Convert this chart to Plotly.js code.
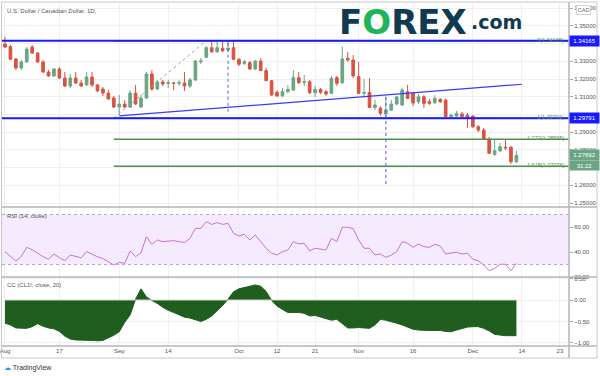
<!DOCTYPE html>
<html><head><meta charset="utf-8">
<script src="https://cdn.plot.ly/plotly-3.0.1.min.js"></script>
<style>html,body{margin:0;padding:0;background:#fff;}#chart{width:600px;height:376px;}</style>
</head><body><div id="chart"></div>
<script>
// trading days (weekdays) shown on the chart
const tradingDays = {
  '2020-08': [3,4,5,6,7,10,11,12,13,14,17,18,19,20,21,24,25,26,27,28,31],
  '2020-09': [1,2,3,4,7,8,9,10,11,14,15,16,17,18,21,22,23,24,25,28,29,30],
  '2020-10': [1,2,5,6,7,8,9,12,13,14,15,16,19,20,21,22,23,26,27,28,29,30],
  '2020-11': [2,3,4,5,6,9,10,11,12,13,16,17,18,19,20,23,24,25,26,27,30],
  '2020-12': [1,2,3,4,7,8,9,10,11]
};
const dates = [];
Object.keys(tradingDays).forEach(m => tradingDays[m].forEach(d => dates.push(m + '-' + String(d).padStart(2,'0'))));

const opens = [1.3398,1.3383,1.3314,1.3263,1.3297,1.3381,1.3347,1.3297,1.3240,1.3218,
1.3257,1.3206,1.3161,1.3206,1.3178,1.3167,1.3212,1.3167,1.3144,1.3121,
1.3093,1.3042,1.3059,1.3042,1.3121,1.3042,1.3093,1.3229,1.3144,1.3184,
1.3176,1.3178,1.3176,1.3178,1.3161,1.3195,1.3297,1.3323,1.3377,1.3355,
1.3374,1.3365,1.3377,1.3312,1.3289,1.3293,1.3257,1.3302,1.3248,1.3191,
1.3125,1.3105,1.3129,1.3138,1.3208,1.3182,1.3185,1.3123,1.3142,1.3129,
1.3120,1.3208,1.3180,1.3317,1.3308,1.3214,1.3120,1.3124,1.3040,1.3035,
1.3003,1.3025,1.3059,1.3054,1.3129,1.3121,1.3072,1.3100,1.3072,1.3067,
1.3085,1.3082,1.2988,1.2991,1.3003,1.2997,1.2991,1.2931,1.2912,1.2860,
1.2775,1.2795,1.2815,1.2815,1.2733];
const highs = [1.3438,1.3393,1.3319,1.3308,1.3381,1.3393,1.3353,1.3308,1.3251,1.3263,
1.3268,1.3240,1.3229,1.3240,1.3195,1.3240,1.3240,1.3172,1.3155,1.3138,
1.3105,1.3110,1.3082,1.3138,1.3167,1.3110,1.3240,1.3251,1.3195,1.3195,
1.3195,1.3184,1.3195,1.3240,1.3206,1.3308,1.3319,1.3387,1.3410,1.3410,
1.3410,1.3416,1.3416,1.3319,1.3308,1.3302,1.3308,1.3319,1.3263,1.3195,
1.3138,1.3150,1.3167,1.3251,1.3240,1.3223,1.3195,1.3161,1.3150,1.3138,
1.3218,1.3218,1.3383,1.3353,1.3336,1.3297,1.3200,1.3206,1.3082,1.3048,
1.3099,1.3082,1.3105,1.3150,1.3167,1.3127,1.3116,1.3110,1.3088,1.3110,
1.3093,1.3088,1.3003,1.3020,1.3014,1.3008,1.2997,1.2940,1.2924,1.2873,
1.2856,1.2839,1.2856,1.2822,1.2794];
const lows = [1.3376,1.3308,1.3251,1.3251,1.3291,1.3342,1.3291,1.3234,1.3212,1.3212,
1.3201,1.3155,1.3150,1.3172,1.3155,1.3161,1.3155,1.3127,1.3105,1.3082,
1.3037,1.2997,1.3037,1.3037,1.3054,1.3037,1.3088,1.3133,1.3138,1.3161,
1.3150,1.3138,1.3161,1.3133,1.3150,1.3189,1.3285,1.3319,1.3347,1.3347,
1.3353,1.3353,1.3308,1.3274,1.3280,1.3251,1.3251,1.3246,1.3189,1.3105,
1.3099,1.3099,1.3121,1.3133,1.3172,1.3161,1.3116,1.3099,1.3116,1.3105,
1.3116,1.3161,1.3172,1.3297,1.3206,1.3116,1.3100,1.3037,1.3025,1.2992,
1.2975,1.3020,1.3054,1.3048,1.3088,1.3048,1.3059,1.3037,1.3054,1.3059,
1.3065,1.2986,1.2980,1.2986,1.2980,1.2924,1.2924,1.2901,1.2856,1.2777,
1.2766,1.2788,1.2800,1.2720,1.2726];
const closes = [1.3381,1.3312,1.3263,1.3297,1.3370,1.3347,1.3297,1.3240,1.3218,1.3257,
1.3206,1.3161,1.3206,1.3178,1.3161,1.3212,1.3167,1.3133,1.3121,1.3088,
1.3042,1.3059,1.3042,1.3121,1.3059,1.3093,1.3229,1.3144,1.3184,1.3172,
1.3180,1.3176,1.3180,1.3161,1.3195,1.3302,1.3302,1.3377,1.3355,1.3377,
1.3360,1.3374,1.3312,1.3284,1.3298,1.3257,1.3302,1.3248,1.3191,1.3110,
1.3105,1.3129,1.3142,1.3208,1.3180,1.3185,1.3123,1.3142,1.3125,1.3116,
1.3204,1.3176,1.3314,1.3308,1.3218,1.3120,1.3124,1.3040,1.3054,1.3007,
1.3025,1.3059,1.3099,1.3138,1.3091,1.3065,1.3100,1.3063,1.3063,1.3091,
1.3072,1.2988,1.2997,1.3006,1.2988,1.2978,1.2931,1.2912,1.2860,1.2781,
1.2795,1.2818,1.2811,1.2733,1.2769];

const rsi = [40.3,36.5,32.8,36.5,43.7,41.8,39.0,36.3,34.2,38.4,
35.5,33.0,37.6,36.5,35.4,40.3,38.0,36.2,34.7,32.0,
29.6,31.7,30.9,40.8,36.3,39.5,52.3,46.1,49.6,48.3,
48.6,49.1,48.3,47.5,50.9,58.9,58.9,64.3,62.1,63.5,
62.1,62.9,54.9,52.8,54.1,49.6,53.6,48.0,43.0,39.0,
37.6,40.3,41.6,48.3,46.5,47.0,41.0,43.0,42.3,41.6,
51.0,48.3,59.8,59.8,58.7,49.6,43.0,43.0,37.6,38.4,
35.7,37.5,40.3,48.3,47.0,43.7,46.4,44.3,43.7,46.1,
44.8,38.4,39.2,39.8,38.4,39.0,34.1,33.0,29.6,25.0,
26.9,30.2,30.2,25.0,30.9];

const cc = [-0.54,-0.58,-0.65,-0.66,-0.66,-0.62,-0.55,-0.61,-0.65,-0.67,
-0.73,-0.84,-0.91,-0.93,-0.93,-0.93,-0.94,-0.95,-0.94,-0.88,
-0.82,-0.74,-0.52,-0.35,0.02,0.26,0.07,-0.01,-0.08,-0.17,
-0.24,-0.29,-0.35,-0.40,-0.42,-0.46,-0.50,-0.45,-0.37,-0.25,
-0.13,0.02,0.19,0.26,0.29,0.33,0.35,0.32,0.20,-0.01,
-0.14,-0.22,-0.29,-0.29,-0.29,-0.31,-0.37,-0.36,-0.40,-0.43,
-0.47,-0.45,-0.56,-0.65,-0.65,-0.64,-0.65,-0.66,-0.58,-0.45,
-0.47,-0.50,-0.54,-0.58,-0.63,-0.68,-0.70,-0.71,-0.71,-0.71,
-0.71,-0.73,-0.74,-0.70,-0.67,-0.63,-0.62,-0.62,-0.66,-0.72,
-0.80,-0.82,-0.83,-0.83,-0.83];

const dateTickVals = ['2020-08-03','2020-08-17','2020-09-01','2020-09-14','2020-10-01','2020-10-12','2020-10-21','2020-11-02','2020-11-16','2020-12-01','2020-12-14','2020-12-23'];
const dateTickText = ['Aug','17','Sep','14','Oct','12','21','Nov','16','Dec','14','23'];
const priceTicks = [1.25,1.26,1.27,1.28,1.29,1.30,1.31,1.32,1.33,1.34,1.35,1.36];
const rsiTicks = [20,40,60];
const ccTicks = [-1,-0.5,0,0.5];

const fibLabels = ['0','1','1.272','1.618'];
const fibPrices = [1.34165,1.29791,1.28595,1.27076];
const fibStart = '2020-08-31';
const blueLevels = [1.34165,1.29791];
const trendDates = ['2020-09-01','2020-12-14'];
const trendPrices = [1.2992,1.3171];
const fibDiagDates = ['2020-08-31','2020-09-23'];
const fibDiagPrices = [1.29791,1.34165];
const vDots = [{d:'2020-09-29', p0:1.3405, p1:1.3009},{d:'2020-11-09', p0:1.3099, p1:1.2590}];
const lastPrice = 1.27692;
const timer = '31:22';
const title = 'U.S. Dollar / Canadian Dollar, 1D,';

// ---- geometry helpers (pixel -> paper) ----
const W=600,H=376, L=2, R=31, T=3, B=30;
const pw = W-L-R, ph = H-T-B;
const px = x => (x-L)/pw;
const py = y => (H-B-y)/ph;

const xRange = ['2020-07-31 10:48','2020-12-24 16:00'];
const UP='#6ba583', DN='#d75442';
const FONT='Liberation Sans, Arial, sans-serif';

const traces = [
  {type:'candlestick', x:dates, open:opens, high:highs, low:lows, close:closes,
   xaxis:'x', yaxis:'y',
   increasing:{line:{color:UP,width:1}, fillcolor:UP},
   decreasing:{line:{color:DN,width:1}, fillcolor:DN},
   hoverinfo:'skip', showlegend:false},
  {type:'scatter', mode:'lines', x:trendDates, y:trendPrices, xaxis:'x', yaxis:'y',
   line:{color:'#3a3aff', width:1.2}, hoverinfo:'skip', showlegend:false},
  {type:'scatter', mode:'lines', x:fibDiagDates, y:fibDiagPrices, xaxis:'x', yaxis:'y',
   line:{color:'#9aa89a', width:1, dash:'dot'}, hoverinfo:'skip', showlegend:false},
  {type:'scatter', mode:'lines', x:dates, y:rsi, xaxis:'x', yaxis:'y2',
   line:{color:'#c872d8', width:1}, hoverinfo:'skip', showlegend:false},
  {type:'scatter', mode:'lines', x:dates, y:cc, xaxis:'x', yaxis:'y3', fill:'tozeroy',
   fillcolor:'#1f5e1f', line:{color:'#1f5e1f', width:1}, hoverinfo:'skip', showlegend:false}
];

const shapes = [];
shapes.push({type:'rect', xref:'paper', x0:0, x1:1, yref:'y2', y0:30, y1:70, fillcolor:'rgba(170,80,255,0.12)', line:{width:0}, layer:'below'});
[30,70].forEach(v => shapes.push({type:'line', xref:'paper', x0:0, x1:1, yref:'y2', y0:v, y1:v, line:{color:'#b8a8c8', width:1, dash:'dot'}}));
shapes.push({type:'line', xref:'x', x0:dates[0], x1:dates[dates.length-1], yref:'y3', y0:0, y1:0, line:{color:'rgba(210,225,210,0.9)', width:1}, layer:'above'});
fibPrices.forEach(p => shapes.push({type:'line', xref:'x', x0:fibStart, x1:xRange[1], yref:'y', y0:p, y1:p, line:{color:'#4f8f4f', width:1.5}}));
blueLevels.forEach(p => shapes.push({type:'line', xref:'paper', x0:0, x1:1, yref:'y', y0:p, y1:p, line:{color:'#1a1aff', width:2}}));
vDots.forEach(v => shapes.push({type:'line', xref:'x', x0:v.d, x1:v.d, yref:'y', y0:v.p0, y1:v.p1, line:{color:'#5a5aff', width:1, dash:'dot'}}));
const sep = '#b4b4b4';
shapes.push({type:'line', xref:'paper', yref:'paper', x0:px(2), x1:px(597), y0:py(207), y1:py(207), line:{color:sep, width:1.5}});
shapes.push({type:'line', xref:'paper', yref:'paper', x0:px(2), x1:px(597), y0:py(277), y1:py(277), line:{color:sep, width:1.5}});
shapes.push({type:'line', xref:'paper', yref:'paper', x0:px(2), x1:px(597), y0:py(346), y1:py(346), line:{color:sep, width:1.5}});
shapes.push({type:'line', xref:'paper', yref:'paper', x0:px(569), x1:px(569), y0:py(2), y1:py(358), line:{color:sep, width:1.5}});
shapes.push({type:'rect', xref:'paper', yref:'paper', x0:px(1.5), x1:px(597), y0:py(2), y1:py(358), line:{color:'#c8c8c8', width:1}});

const ann = [];
ann.push({xref:'paper', yref:'paper', x:px(5), y:py(11), xanchor:'left', yanchor:'middle', text:title, showarrow:false, font:{family:FONT, size:6, color:'#555'}});
ann.push({xref:'paper', yref:'paper', x:px(5), y:py(216), xanchor:'left', yanchor:'middle', text:'RSI (14, close)', showarrow:false, font:{family:FONT, size:6, color:'#555'}});
ann.push({xref:'paper', yref:'paper', x:px(5), y:py(285), xanchor:'left', yanchor:'middle', text:'CC (CL1!, close, 20)', showarrow:false, font:{family:FONT, size:6, color:'#555'}});
fibPrices.forEach((p,i) => ann.push({xref:'paper', yref:'y', x:px(566), y:p, xanchor:'right', yanchor:'middle', yshift:1, text:fibLabels[i]+'('+p.toFixed(5)+')', showarrow:false, font:{family:FONT, size:5.5, color:'#4f8f4f'}}));
function box(p, text, bg, yref){
  ann.push({xref:'paper', yref:yref||'y', x:px(569), y:p, xanchor:'left', yanchor:'middle', text:text, showarrow:false,
    bgcolor:bg, width:27, height:8, borderpad:1, font:{family:FONT, size:6, color:'#fff'}});
}
blueLevels.forEach(p => box(p, p.toFixed(5), '#1a1aff'));
box(lastPrice, lastPrice.toFixed(5), UP);
ann.push({xref:'paper', yref:'paper', x:px(569), y:py(165.5), xanchor:'left', yanchor:'middle', text:timer, showarrow:false,
    bgcolor:UP, width:27, height:7, borderpad:1, font:{family:FONT, size:6, color:'#fff'}});
ann.push({xref:'paper', yref:'paper', x:px(576), y:py(10), xanchor:'left', yanchor:'middle', text:'CAD', showarrow:false,
    bgcolor:'#fff', bordercolor:'#c8c8c8', borderwidth:0.8, borderpad:1, font:{family:FONT, size:5.5, color:'#666'}});
// logo
ann.push({xref:'paper', yref:'paper', x:px(337), y:py(21.5), xanchor:'left', yanchor:'middle', showarrow:false,
  text:'<b>F<span style="color:#1fb45a">O</span>REX</b>', font:{family:'DejaVu Sans, sans-serif', size:34, color:'#0f3a52'}});
ann.push({xref:'paper', yref:'paper', x:px(469), y:py(22), xanchor:'left', yanchor:'middle', showarrow:false,
  text:'<b>.com</b>', font:{family:'DejaVu Sans, sans-serif', size:19, color:'#0f3a52'}});
ann.push({xref:'paper', yref:'paper', x:px(2), y:py(368), xanchor:'left', yanchor:'middle', showarrow:false,
  text:'<span style="color:#2196f3">☁</span> TradingView', font:{family:FONT, size:7, color:'#333'}});

const axisFont = {family:FONT, size:6, color:'#555'};
const layout = {
  width:W, height:H, margin:{l:L, r:R, t:T, b:B, pad:0},
  paper_bgcolor:'#fff', plot_bgcolor:'#fff', showlegend:false, dragmode:false,
  xaxis:{type:'date', range:xRange, rangebreaks:[{bounds:['sat','mon']}], rangeslider:{visible:false},
    tickvals:dateTickVals, ticktext:dateTickText, tickfont:axisFont, ticks:'', showgrid:true, gridcolor:'#f0f0f0',
    ticklabeloverflow:'allow', showline:false, zeroline:false, anchor:'y3', fixedrange:true},
  yaxis:{domain:[py(207),py(3)], range:[1.24774,1.36299], side:'right', tickvals:priceTicks, tickformat:'.5f',
    tickfont:axisFont, ticks:'outside', ticklen:3, tickcolor:'#aaa', gridcolor:'#f0f0f0', zeroline:false, showline:false, anchor:'x', fixedrange:true},
  yaxis2:{domain:[py(277),py(207)], range:[20,76], side:'right', tickvals:rsiTicks, tickformat:'.2f',
    tickfont:axisFont, ticks:'outside', ticklen:3, tickcolor:'#aaa', gridcolor:'#ececec', zeroline:false, showline:false, anchor:'x', fixedrange:true},
  yaxis3:{domain:[0,py(277)], range:[-1.07,0.535], side:'right', tickvals:ccTicks, tickformat:'.2f',
    tickfont:axisFont, ticks:'outside', ticklen:3, tickcolor:'#aaa', gridcolor:'#f0f0f0', zeroline:false, showline:false, anchor:'x', fixedrange:true},
  shapes:shapes, annotations:ann
};
Plotly.newPlot('chart', traces, layout, {staticPlot:true, displayModeBar:false});
</script></body></html>
